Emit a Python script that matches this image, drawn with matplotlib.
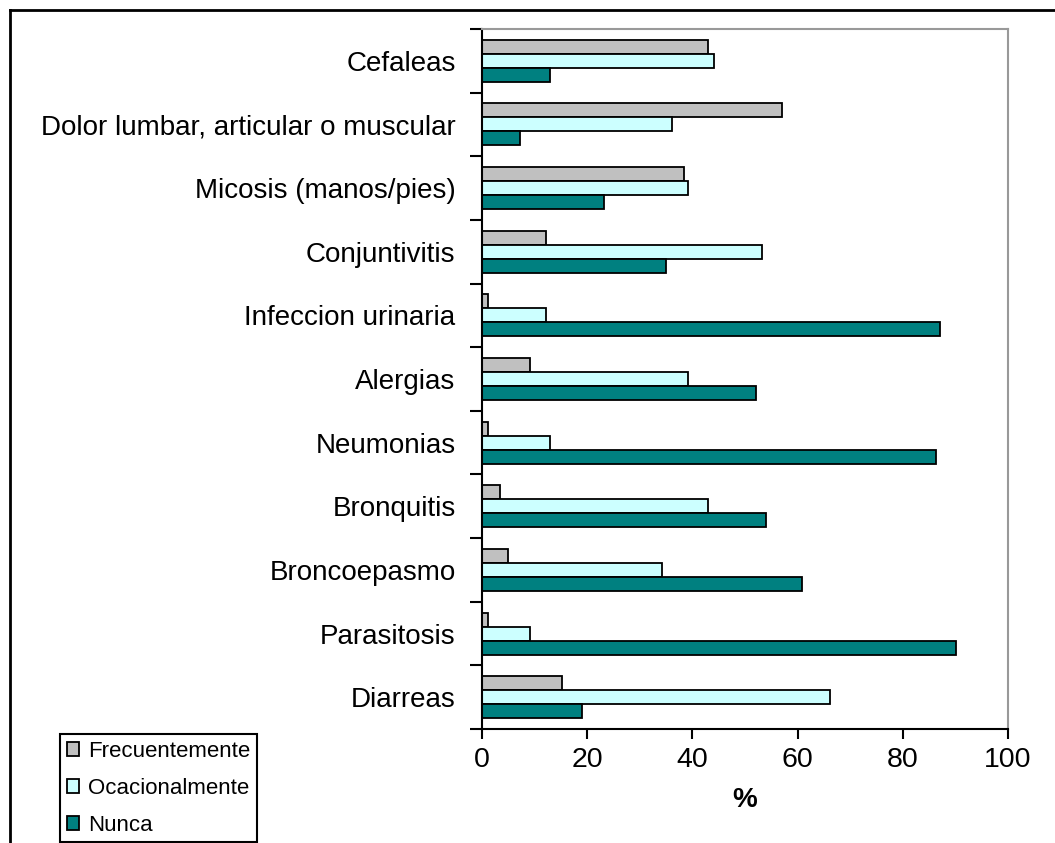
import matplotlib
matplotlib.use("Agg")
import matplotlib.pyplot as plt
from matplotlib.lines import Line2D
from matplotlib.patches import Patch
import numpy as np

plt.rcParams['font.family'] = ['Liberation Sans', 'DejaVu Sans']

categories = ["Cefaleas", "Dolor lumbar, articular o muscular", "Micosis (manos/pies)",
              "Conjuntivitis", "Infeccion urinaria", "Alergias", "Neumonias",
              "Bronquitis", "Broncoepasmo", "Parasitosis", "Diarreas"]
frecuentemente = [43, 57, 38.4, 12.1, 1.1, 9.1, 1.1, 3.4, 4.9, 1.1, 15.2]
ocacionalmente = [44.1, 36.1, 39.1, 53.2, 12.1, 39.1, 12.9, 42.9, 34.2, 9.2, 66.1]
nunca = [12.9, 7.2, 23.1, 35.0, 87.1, 52.1, 86.4, 54.0, 60.8, 90.2, 19.0]
series_names = ["Frecuentemente", "Ocacionalmente", "Nunca"]
series_colors = ["#C0C0C0", "#CCFFFF", "#008080"]
xticks = [0, 20, 40, 60, 80, 100]

W, H = 1055, 843
fig = plt.figure(figsize=(W / 100, H / 100), dpi=100)
fig.patch.set_facecolor("white")

L, R, T, B = 482, 1008, 29, 729
ax = fig.add_axes([L / W, 1 - B / H, (R - L) / W, (B - T) / H])

y = np.arange(len(categories))
h = 0.22
for vals, off, col, name in zip([frecuentemente, ocacionalmente, nunca], [-h, 0, h],
                                series_colors, series_names):
    ax.barh(y + off, vals, height=h, color=col, edgecolor="black", linewidth=1.3, label=name)

ax.set_xlim(0, 100)
ax.set_ylim(len(categories) - 0.5, -0.5)
ax.set_xticks(xticks)
ax.set_xticklabels([str(v) for v in xticks], fontsize=20.5)
ax.set_yticks(y)
ax.set_yticklabels(categories, fontsize=20)
ax.tick_params(axis="y", which="major", length=0, pad=19)
ax.set_yticks(np.arange(-0.5, len(categories), 1.0), minor=True)
ax.tick_params(axis="y", which="minor", length=9, width=1.5, direction="out")
ax.tick_params(axis="x", which="major", length=7, width=1.5, direction="out", pad=6)
ax.set_xlabel("%", fontsize=20, fontweight="bold", labelpad=10)

for s in ["left", "bottom"]:
    ax.spines[s].set_color("black")
    ax.spines[s].set_linewidth(1.5)
for s in ["top", "right"]:
    ax.spines[s].set_color("#999999")
    ax.spines[s].set_linewidth(1.5)

handles = [Patch(facecolor=c, edgecolor="black", linewidth=1.3) for c in series_colors]
leg = fig.legend(handles, series_names, loc="upper left",
                 bbox_to_anchor=(60 / W, 1 - 734 / H), borderaxespad=0,
                 fontsize=16, handlelength=0.55, handleheight=0.55,
                 handletextpad=0.4, borderpad=0.3, labelspacing=0.72,
                 fancybox=False, framealpha=1, edgecolor="black")
leg.get_frame().set_linewidth(1.5)

fig.add_artist(Line2D([10 / W, 1], [1 - 10 / H, 1 - 10 / H], color="black", linewidth=2,
                      transform=fig.transFigure))
fig.add_artist(Line2D([10 / W, 10 / W], [0, 1 - 10 / H], color="black", linewidth=2,
                      transform=fig.transFigure))

fig.savefig("out.png", dpi=100)
